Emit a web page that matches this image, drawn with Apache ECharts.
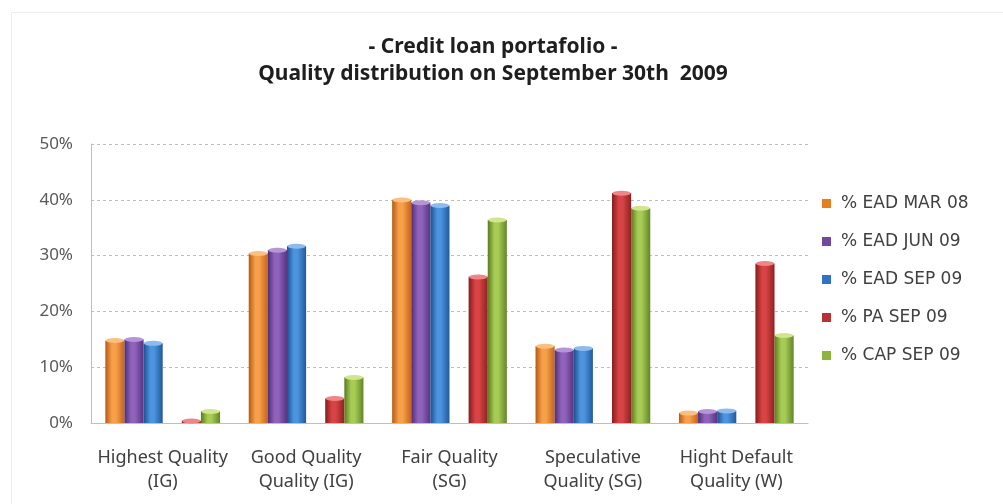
<!DOCTYPE html>
<html>
<head>
<meta charset="utf-8">
<script src="https://cdn.jsdelivr.net/npm/echarts@6/dist/echarts.min.js"></script>
<style>
  html, body { margin: 0; padding: 0; background: #ffffff; }
  #chart { width: 1003px; height: 504px; }
</style>
</head>
<body>
<div id="chart"></div>
<script>
// Quality buckets of the credit portfolio
const categories = [
  'Highest Quality\n(IG)',
  'Good Quality\nQuality (IG)',
  'Fair Quality\n(SG)',
  'Speculative\nQuality (SG)',
  'Hight Default\nQuality (W)'
];

// Share of each bucket (%)
const eadMar08 = [14.8, 30.4, 40.0, 13.8, 1.8];
const eadJun09 = [15.0, 31.0, 39.5, 13.1, 2.1];
const eadSep09 = [14.3, 31.7, 39.0, 13.4, 2.2];
const paSep09  = [0.4, 4.4, 26.2, 41.2, 28.6];
const capSep09 = [2.1, 8.2, 36.4, 38.5, 15.7];

const yTicks = [0, 10, 20, 30, 40, 50];

// dark edge, highlight, right edge, top face
const palette = {
  '% EAD MAR 08': ['#b85a12', '#f7a04a', '#c4641a', '#fbc080'],
  '% EAD JUN 09': ['#4e2d78', '#8f63bb', '#56337f', '#b594d8'],
  '% EAD SEP 09': ['#1d4f8e', '#4c94dd', '#21599c', '#8cbcef'],
  '% PA SEP 09':  ['#861b1c', '#d84445', '#8f2122', '#ee8586'],
  '% CAP SEP 09': ['#5b7a1f', '#a6cc55', '#63852a', '#cfe68c']
};
const solid = {
  '% EAD MAR 08': '#e6801f',
  '% EAD JUN 09': '#7348a0',
  '% EAD SEP 09': '#2f74c4',
  '% PA SEP 09':  '#b73234',
  '% CAP SEP 09': '#8cb43c'
};

const seriesDefs = [
  ['% EAD MAR 08', eadMar08],
  ['% EAD JUN 09', eadJun09],
  ['% EAD SEP 09', eadSep09],
  [null, categories.map(() => null)],   // empty slot between the EAD group and PA / CAP
  ['% PA SEP 09', paSep09],
  ['% CAP SEP 09', capSep09]
];

function cylinder(name) {
  const c = palette[name];
  return new echarts.graphic.LinearGradient(0, 0, 1, 0, [
    { offset: 0, color: c[0] },
    { offset: 0.35, color: c[1] },
    { offset: 0.55, color: c[1] },
    { offset: 1, color: c[2] }
  ]);
}

const bars = seriesDefs.map(([name, values]) => ({
  name: name || 'spacer',
  type: 'bar',
  data: values,
  barGap: '0%',
  barCategoryGap: '20%',
  itemStyle: name ? { color: cylinder(name) } : undefined
}));

// elliptical top faces of the cylinders
const caps = seriesDefs.map(([name, values]) => ({
  name: name || 'spacer',
  type: 'pictorialBar',
  data: values,
  barGap: '0%',
  barCategoryGap: '20%',
  symbol: 'circle',
  symbolSize: ['96%', 5],
  symbolPosition: 'end',
  symbolOffset: [0, '-50%'],
  z: 3,
  itemStyle: name ? { color: palette[name][3], borderColor: palette[name][2], borderWidth: 0.6 } : undefined
}));

const chart = echarts.init(document.getElementById('chart'), null, { renderer: 'canvas' });

const names = ['% EAD MAR 08', '% EAD JUN 09', '% EAD SEP 09', '% PA SEP 09', '% CAP SEP 09'];

chart.setOption({
  animation: false,
  backgroundColor: '#ffffff',
  title: {
    text: '- Credit loan portafolio -\nQuality distribution on September 30th  2009',
    left: 488,
    textAlign: 'center',
    top: 29,
    textStyle: {
      fontFamily: 'Noto Sans',
      fontWeight: 'bold',
      fontSize: 21,
      color: '#1e1e1e',
      lineHeight: 27
    }
  },
  graphic: [{
    type: 'rect',
    shape: { x: 11.5, y: 12.5, width: 1010, height: 510 },
    style: { fill: 'none', stroke: '#ececec', lineWidth: 1 },
    silent: true,
    z: -1
  }],
  legend: {
    orient: 'vertical',
    left: 817,
    top: 190,
    itemWidth: 9,
    itemHeight: 9,
    itemGap: 21,
    icon: 'rect',
    textStyle: { fontFamily: 'DejaVu Sans', fontSize: 17, color: '#404040', padding: [0, 0, 0, 5] },
    data: names.map(n => ({ name: n, itemStyle: { color: solid[n] } }))
  },
  grid: { left: 91, right: 195, top: 144, bottom: 81, containLabel: false },
  xAxis: {
    type: 'category',
    data: categories,
    axisTick: { show: false },
    axisLine: { lineStyle: { color: '#bfbfbf' } },
    axisLabel: {
      fontFamily: 'Noto Sans',
      fontSize: 18,
      color: '#404040',
      lineHeight: 24,
      margin: 23,
      interval: 0
    }
  },
  yAxis: {
    type: 'value',
    min: 0,
    max: 50,
    interval: 10,
    axisLine: { show: true, lineStyle: { color: '#bfbfbf' } },
    axisTick: { show: false },
    splitLine: { lineStyle: { color: '#bdbdbd', type: [3, 3] } },
    axisLabel: {
      fontFamily: 'Noto Sans',
      fontSize: 17,
      color: '#595959',
      margin: 18,
      formatter: v => (yTicks.includes(v) ? v + '%' : '')
    }
  },
  series: bars.concat(caps)
});
</script>
</body>
</html>
